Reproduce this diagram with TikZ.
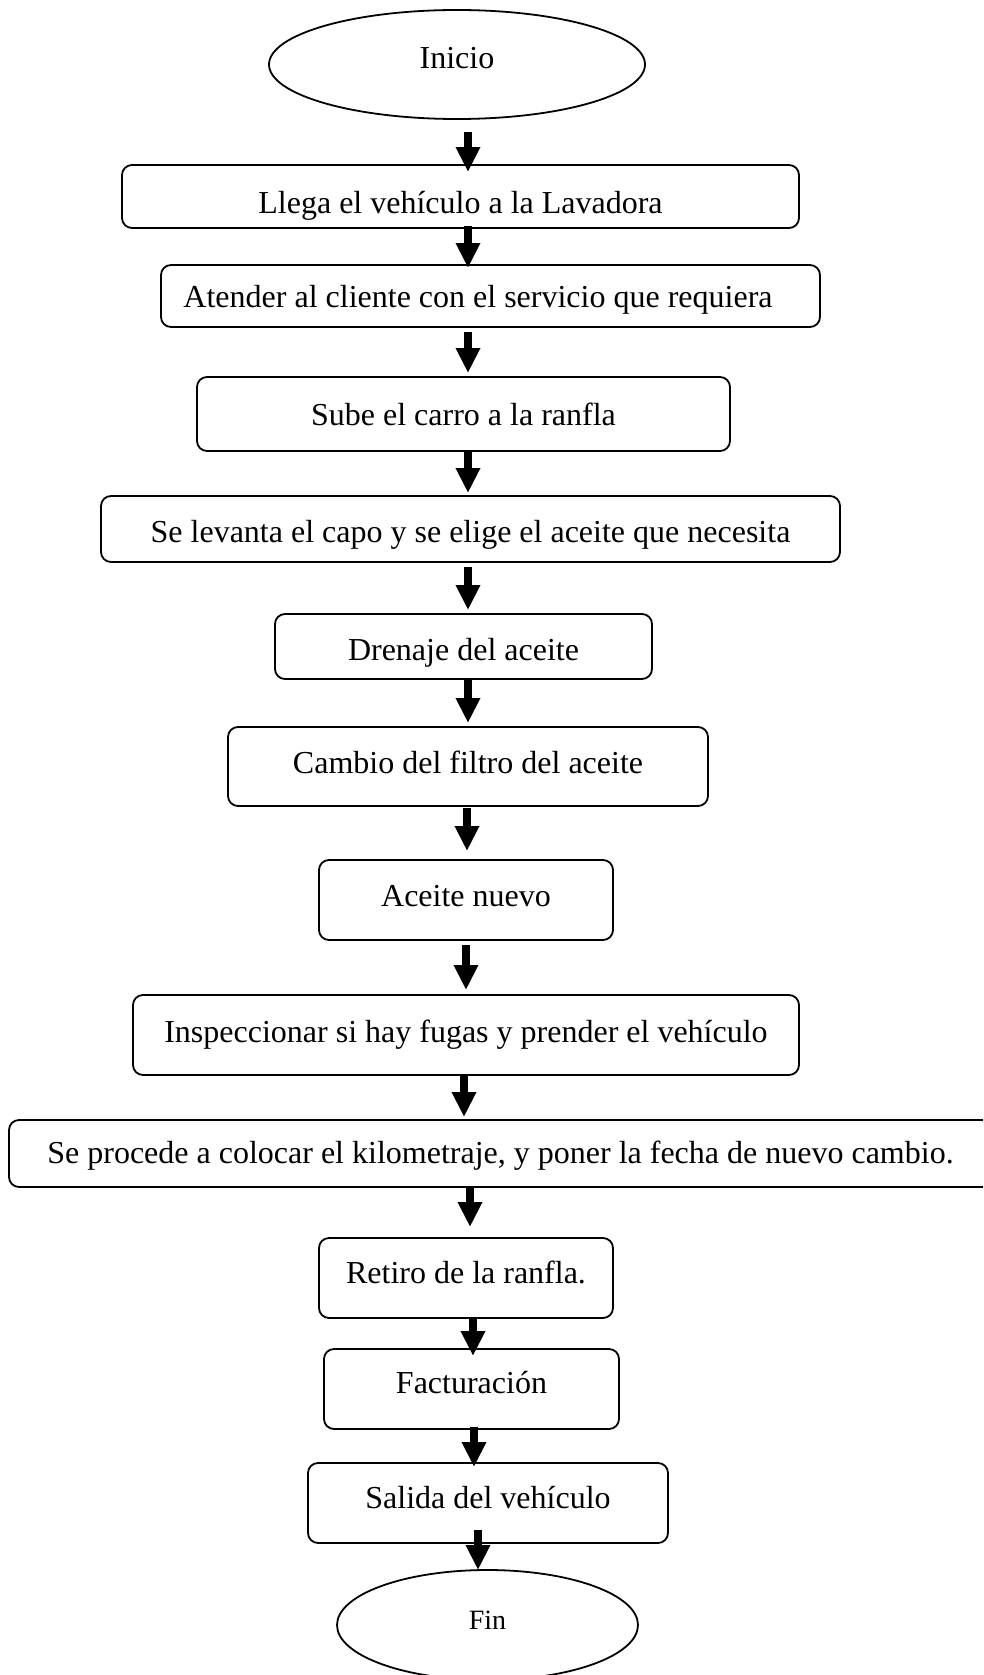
\documentclass[tikz,border=0pt]{standalone}
\usepackage{fontspec}
\setmainfont{Liberation Serif}
\usetikzlibrary{arrows.meta,shapes.geometric}
\begin{document}
\begin{tikzpicture}[x=1pt,y=-1pt,
  every node/.style={font=\fontsize{32}{38}\selectfont},
  stepbox/.style={draw, line width=1.8pt, rounded corners=10pt, inner sep=0pt, outer sep=0pt, text depth=0pt},
  term/.style={draw, ellipse, line width=1.8pt, inner sep=0pt, outer sep=0pt, text depth=0pt},
  arr/.style={line width=8pt, -{Triangle[length=25pt,width=23pt]}},
]
\clip (0,0) rectangle (983,1675);
\fill[white] (0,0) rectangle (983,1675);

\node[term, minimum width=376pt, minimum height=109pt, text height=8.2pt] (start) at (457,64.5) {Inicio};
\node[stepbox, minimum width=677pt, minimum height=63pt, text height=34.2pt] (b1) at (460.5,196.5) {Llega el vehículo a la Lavadora};
\node[stepbox, minimum width=659pt, minimum height=62pt, text height=23.2pt] (b2) at (490.5,296) {\hspace*{-25pt}Atender al cliente con el servicio que requiera};
\node[stepbox, minimum width=533pt, minimum height=74pt, text height=23.2pt] (b3) at (463.5,414) {Sube el carro a la ranfla};
\node[stepbox, minimum width=739pt, minimum height=66pt, text height=27.2pt] (b4) at (470.5,529) {Se levanta el capo y se elige el aceite que necesita};
\node[stepbox, minimum width=377pt, minimum height=65pt, text height=28.2pt] (b5) at (463.5,646.5) {Drenaje del aceite};
\node[stepbox, minimum width=480pt, minimum height=79pt, text height=14.2pt] (b6) at (468,766.5) {Cambio del filtro del aceite};
\node[stepbox, minimum width=294pt, minimum height=80pt, text height=13.2pt] (b7) at (466,900) {Aceite nuevo};
\node[stepbox, minimum width=666pt, minimum height=80pt, text height=15.2pt] (b8) at (466,1035) {Inspeccionar si hay fugas y prender el vehículo};
\node[stepbox, minimum width=983pt, minimum height=67pt, text height=20.2pt] (b9) at (500.5,1153.5) {Se procede a colocar el kilometraje, y poner la fecha de nuevo cambio.};
\node[stepbox, minimum width=294pt, minimum height=80pt, text height=11.2pt] (b10) at (466,1278) {Retiro de la ranfla.};
\node[stepbox, minimum width=295pt, minimum height=80pt, text height=9.2pt] (b11) at (471.5,1389) {Facturación};
\node[stepbox, minimum width=360pt, minimum height=80pt, text height=11.2pt] (b12) at (488,1503) {Salida del vehículo};
\node[term, minimum width=301pt, minimum height=110pt, text height=8.5pt, font=\fontsize{28}{34}\selectfont] (end) at (487.5,1625) {Fin};

\draw[arr] ([xshift=11pt,yshift=-13pt]start.south) -- ([xshift=7.5pt,yshift=-7pt]b1.north);
\draw[arr] ([xshift=7.5pt,yshift=2pt]b1.south) -- ([xshift=-22.5pt,yshift=-3pt]b2.north);
\draw[arr] ([xshift=-22.5pt,yshift=-5pt]b2.south) -- ([xshift=4.5pt,yshift=4pt]b3.north);
\draw[arr] ([xshift=4.5pt,yshift=-1pt]b3.south) -- ([xshift=-2.5pt,yshift=3pt]b4.north);
\draw[arr] ([xshift=-2.5pt,yshift=-5pt]b4.south) -- ([xshift=4.5pt,yshift=4pt]b5.north);
\draw[arr] ([xshift=4.5pt]b5.south) -- ([yshift=4pt]b6.north);
\draw[arr] ([xshift=-1pt,yshift=-2pt]b6.south) -- ([xshift=1pt,yshift=9pt]b7.north);
\draw[arr] ([yshift=-5pt]b7.south) -- ([yshift=5pt]b8.north);
\draw[arr] ([xshift=-2pt,yshift=-1pt]b8.south) -- ([xshift=-36.5pt,yshift=3pt]b9.north);
\draw[arr] ([xshift=-30.5pt]b9.south) -- ([xshift=4pt,yshift=11pt]b10.north);
\draw[arr] ([xshift=7pt]b10.south) -- ([xshift=1.5pt,yshift=-7pt]b11.north);
\draw[arr] ([xshift=2.5pt,yshift=2pt]b11.south) -- ([xshift=-14pt,yshift=-4pt]b12.north);
\draw[arr] ([xshift=-10pt,yshift=13pt]b12.south) -- ([xshift=-9.5pt]end.north);
\end{tikzpicture}
\end{document}
